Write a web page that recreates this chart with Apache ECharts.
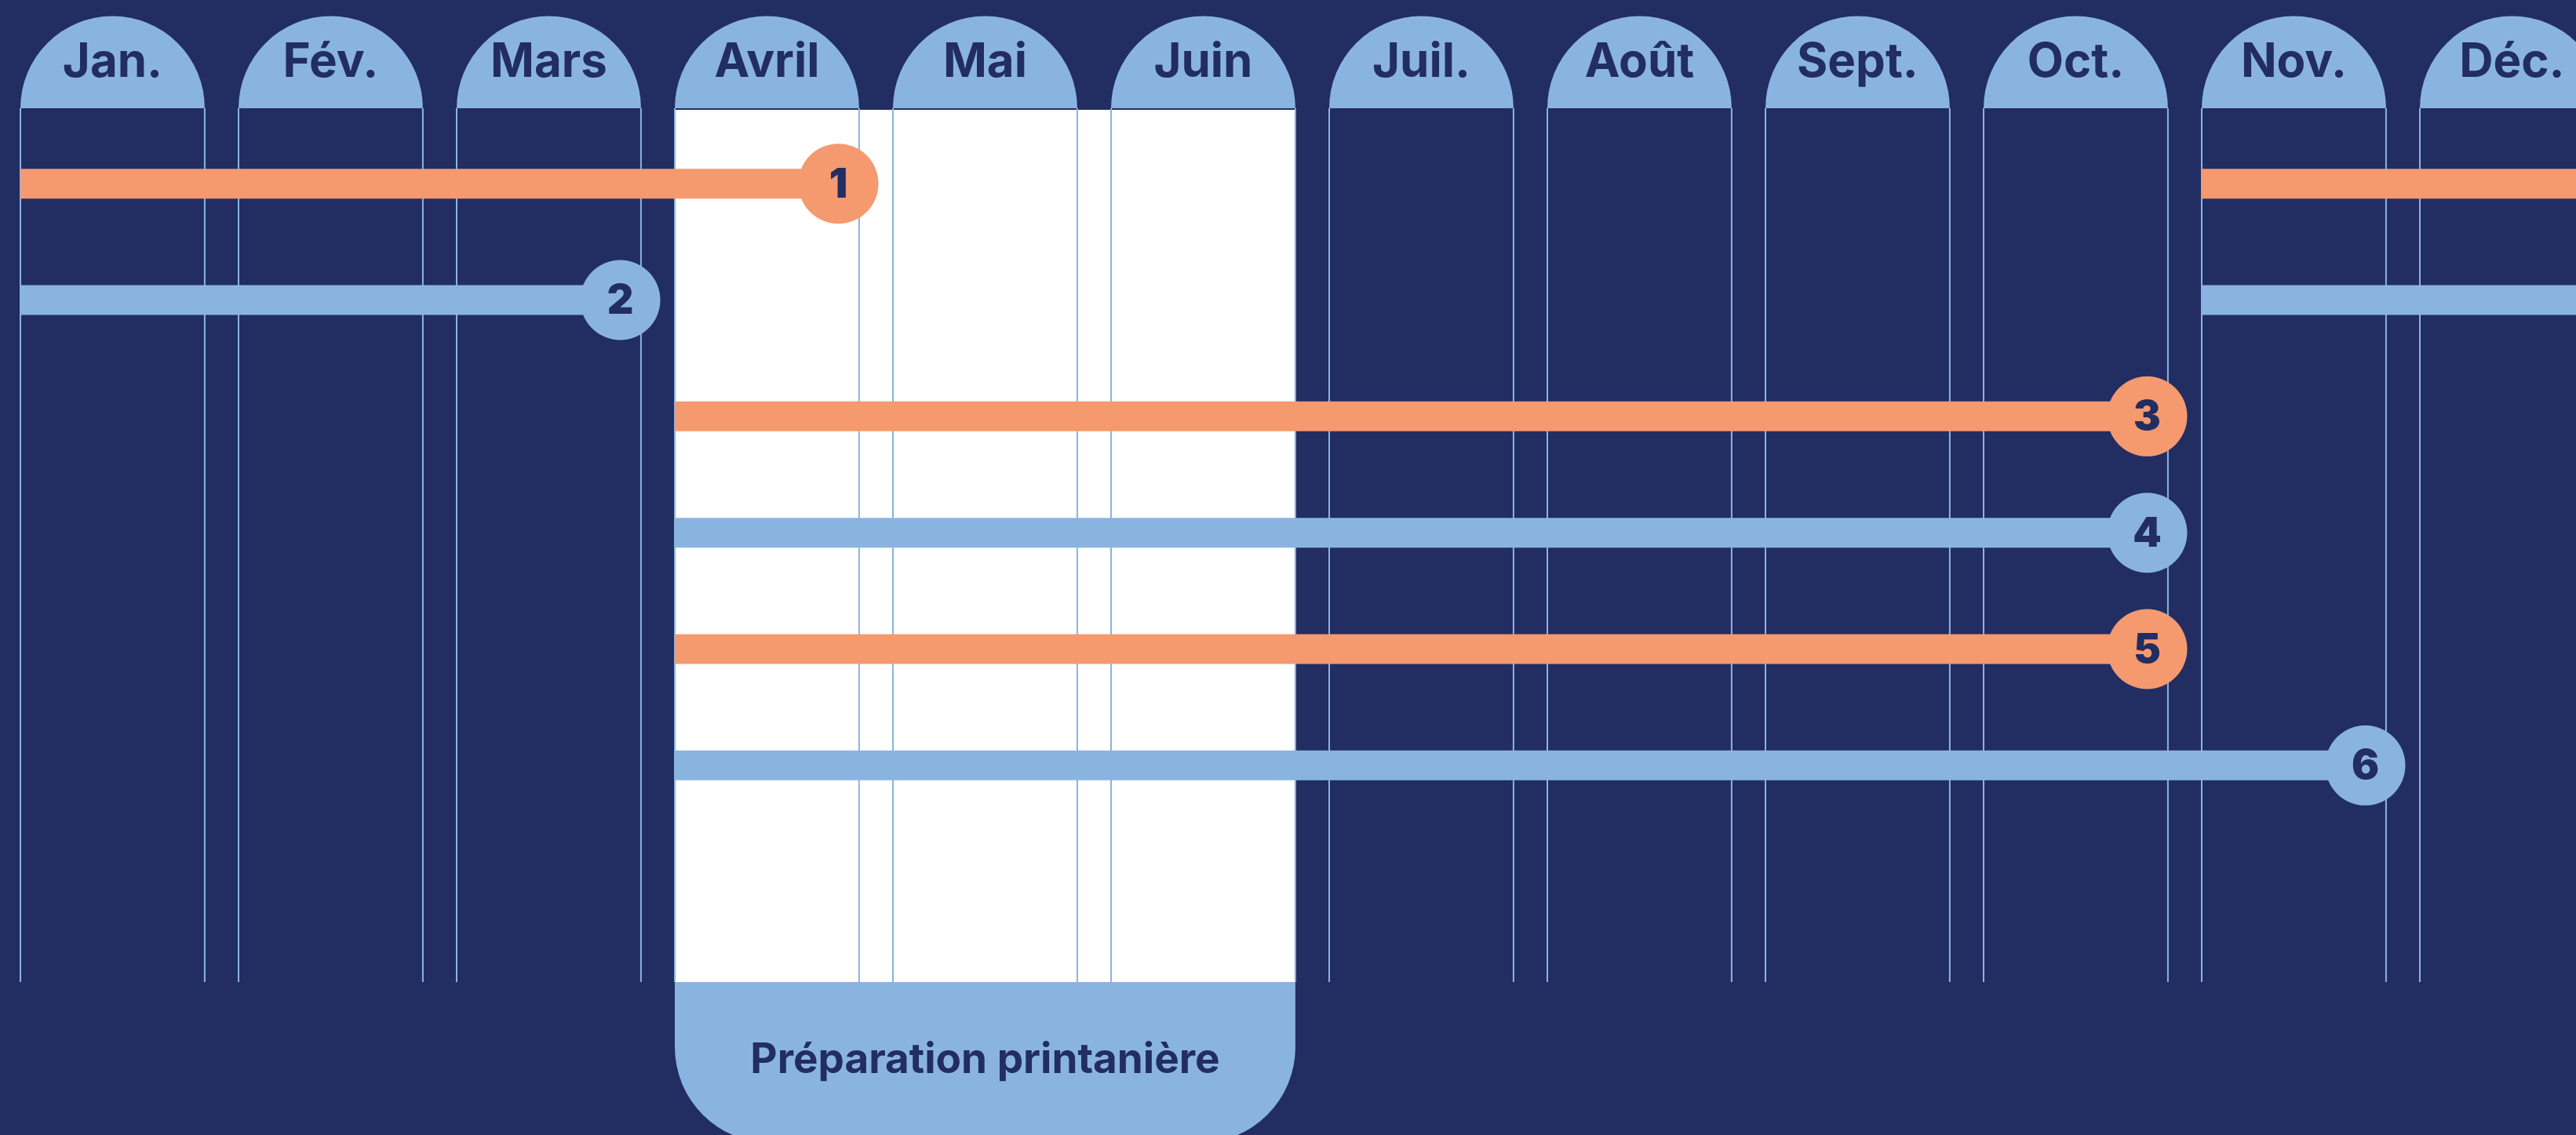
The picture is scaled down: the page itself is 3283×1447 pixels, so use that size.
<!DOCTYPE html>
<html>
<head>
<meta charset="utf-8">
<title>Calendrier</title>
<script src="https://cdn.jsdelivr.net/npm/echarts@6/dist/echarts.min.js"></script>
<style>
  html, body { margin: 0; padding: 0; background: #222d62; }
  #main { width: 3283px; height: 1447px; }
</style>
</head>
<body>
<div id="main"></div>
<script>
// column headers
const months = ['Jan.', 'Fév.', 'Mars', 'Avril', 'Mai', 'Juin', 'Juil.', 'Août', 'Sept.', 'Oct.', 'Nov.', 'Déc.'];

// numbered periods, in months from 1 Jan (0 = start of Jan, 12 = end of Dec)
// a start bigger than the end means the period runs over the new year
const taskNames = ['1', '2', '3', '4', '5', '6'];
const taskStart = [10, 10, 3, 3, 3, 3];
const taskEnd = [3.75, 2.75, 9.75, 9.75, 9.75, 10.75];

// highlighted season: first and last month index
const seasonMonths = [3, 5];
const seasonLabel = 'Préparation printanière';

const NAVY = '#222d62';
const BLUE = '#8ab4e0';
const ORANGE = '#f5996f';
const COL = 0.845; // column width as a share of one month

function renderSeason (params, api) {
  let cs = params.coordSys;
  let x0 = api.coord([api.value(0), 0])[0];
  let x1 = api.coord([api.value(1) + COL, 0])[0];
  let top = cs.y, bottom = cs.y + cs.height;
  return {
    type: 'group',
    children: [
      { type: 'rect', shape: { x: x0, y: top + 2, width: x1 - x0, height: bottom - top - 2 }, style: { fill: '#ffffff' } },
      { type: 'rect', shape: { x: x0, y: bottom, width: x1 - x0, height: 205, r: [0, 0, 122, 122] }, style: { fill: BLUE } },
      {
        type: 'text', x: (x0 + x1) / 2, y: bottom + 100,
        style: { text: seasonLabel, fill: NAVY, fontFamily: 'Inter', fontWeight: 700, fontSize: 53, align: 'center', verticalAlign: 'middle' }
      }
    ]
  };
}

function renderMonth (params, api) {
  let i = params.dataIndex;
  let cs = params.coordSys;
  let x0 = api.coord([api.value(0), 0])[0];
  let x1 = api.coord([api.value(0) + COL, 0])[0];
  let top = cs.y, bottom = cs.y + cs.height;
  let r = (x1 - x0) / 2;
  return {
    type: 'group',
    children: [
      { type: 'sector', shape: { cx: x0 + r, cy: top, r0: 0, r: r, startAngle: Math.PI, endAngle: Math.PI * 2 }, style: { fill: BLUE } },
      {
        type: 'text', x: x0 + r, y: top - 58,
        style: { text: months[i], fill: NAVY, fontFamily: 'Inter', fontWeight: 700, fontSize: 60, align: 'center', verticalAlign: 'middle' }
      },
      { type: 'line', shape: { x1: x0, y1: top, x2: x0, y2: bottom }, style: { stroke: BLUE, lineWidth: 2 } },
      { type: 'line', shape: { x1: x1, y1: top, x2: x1, y2: bottom }, style: { stroke: BLUE, lineWidth: 2 } }
    ]
  };
}

function renderTask (params, api) {
  let row = params.dataIndex;
  let start = api.value(1), end = api.value(2);
  let color = row % 2 === 0 ? ORANGE : BLUE;
  let segs = start > end ? [[start, 12], [0, end]] : [[start, end]];
  let children = segs.map(function (s) {
    let p0 = api.coord([s[0], row]);
    let p1 = api.coord([s[1], row]);
    return { type: 'rect', shape: { x: p0[0], y: p0[1] - 19, width: p1[0] - p0[0], height: 38 }, style: { fill: color } };
  });
  let pe = api.coord([end, row]);
  children.push({ type: 'circle', shape: { cx: pe[0], cy: pe[1], r: 51 }, style: { fill: color } });
  children.push({
    type: 'text', x: pe[0], y: pe[1] + 2,
    style: { text: taskNames[row], fill: NAVY, fontFamily: 'Inter', fontWeight: 900, fontSize: 52, align: 'center', verticalAlign: 'middle' }
  });
  return { type: 'group', children: children };
}

let chart = echarts.init(document.getElementById('main'));
let option = {
  backgroundColor: NAVY,
  animation: false,
  grid: [
    { left: 26, top: 138, width: 3336, height: 1114, outerBoundsMode: 'none' },
    { left: 26, top: 160, width: 3336, height: 890, outerBoundsMode: 'none' }
  ],
  xAxis: [
    { type: 'value', gridIndex: 0, min: 0, max: 12, show: false },
    { type: 'value', gridIndex: 1, min: 0, max: 12, show: false }
  ],
  yAxis: [
    { type: 'value', gridIndex: 0, min: 0, max: 1, show: false },
    { type: 'category', gridIndex: 1, data: taskNames, inverse: true, show: false }
  ],
  series: [
    {
      type: 'custom',
      xAxisIndex: 0, yAxisIndex: 0,
      z: 1,
      renderItem: renderSeason,
      encode: { x: [0, 1], y: 2 },
      data: [[seasonMonths[0], seasonMonths[1], 0]]
    },
    {
      type: 'custom',
      xAxisIndex: 0, yAxisIndex: 0,
      z: 2,
      renderItem: renderMonth,
      encode: { x: 0, y: 1 },
      data: months.map(function (m, i) { return [i, 0]; })
    },
    {
      type: 'custom',
      xAxisIndex: 1, yAxisIndex: 1,
      z: 3,
      renderItem: renderTask,
      encode: { y: 0, x: [1, 2] },
      data: taskNames.map(function (n, i) { return [i, taskStart[i], taskEnd[i]]; })
    }
  ]
};
chart.setOption(option);
window.addEventListener('resize', function () { chart.resize(); });
</script>
</body>
</html>
